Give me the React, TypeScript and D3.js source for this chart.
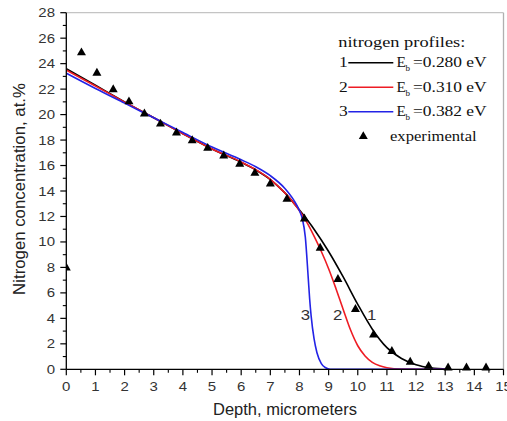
import React from "react";
import * as d3 from "d3";

// ---- data ----
const expDepth = [0, 0.52, 1.05, 1.61, 2.15, 2.68, 3.23, 3.78, 4.32, 4.85, 5.4, 5.95, 6.47, 7.0, 7.57, 8.17, 8.71, 9.32, 9.92, 10.54, 11.17, 11.8, 12.43, 13.1, 13.73, 14.4];
const expConc = [8.0, 24.9, 23.3, 22.0, 21.05, 20.1, 19.3, 18.6, 18.0, 17.4, 16.8, 16.15, 15.45, 14.6, 13.4, 11.85, 9.55, 7.1, 4.75, 2.75, 1.45, 0.6, 0.28, 0.15, 0.15, 0.15];

const prof1Depth = [0, 1, 2, 3, 4, 5, 6, 6.5, 7, 7.5, 8, 8.5, 9, 9.5, 10, 10.5, 11, 11.5, 12, 12.5, 13.1];
const prof1Conc = [23.6, 22.3, 21.0, 19.75, 18.5, 17.3, 16.25, 15.65, 14.9, 13.85, 12.5, 11.0, 9.25, 7.25, 5.1, 3.15, 1.7, 0.85, 0.36, 0.11, 0];

const prof2Depth = [0, 1, 2, 3, 4, 5, 6, 6.5, 7, 7.5, 8, 8.25, 8.5, 8.75, 9.0, 9.25, 9.5, 9.75, 10, 10.25, 10.5, 10.75, 11, 11.5, 13.1];
const prof2Conc = [23.5, 22.25, 20.98, 19.75, 18.5, 17.3, 16.28, 15.68, 14.92, 13.85, 12.45, 11.55, 10.45, 9.25, 7.9, 6.35, 4.7, 3.1, 1.85, 1.05, 0.55, 0.27, 0.12, 0.02, 0];

const prof3Depth = [0, 1, 2, 3, 4, 5, 6, 6.5, 7, 7.5, 7.8, 8.0, 8.1, 8.2, 8.3, 8.35, 8.4, 8.5, 8.6, 8.75, 8.9, 9.05, 13.1];
const prof3Conc = [23.25, 22.05, 20.9, 19.75, 18.6, 17.45, 16.45, 15.9, 15.2, 14.2, 13.3, 12.45, 11.8, 10.4, 7.2, 5.5, 4.2, 2.4, 1.3, 0.45, 0.12, 0, 0];

const profileIds = ["1", "2", "3"];
const profileEnergies = ["=0.280 eV", "=0.310 eV", "=0.382 eV"];
const profileColors = ["#000000", "#ee1c24", "#2323e6"];
const curveLabelDepth = [10.48, 9.31, 8.2];
const curveLabelConc = [4.26, 4.26, 4.26];

const xTicks = d3.range(0, 16, 1);
const yTicks = d3.range(0, 29, 2);

export default function App() {
  const W = 507, H = 421;
  const x = d3.scaleLinear().domain([0, 15]).range([66.3, 503.5]);
  const y = d3.scaleLinear().domain([0, 28]).range([369.3, 12.7]);
  const line = d3
    .line<[number, number]>()
    .x((d) => x(d[0]))
    .y((d) => y(d[1]))
    .curve(d3.curveMonotoneX);

  const profiles = [
    d3.zip(prof1Depth, prof1Conc) as [number, number][],
    d3.zip(prof2Depth, prof2Conc) as [number, number][],
    d3.zip(prof3Depth, prof3Conc) as [number, number][],
  ];

  const xMinor = d3.range(0.5, 15, 1);
  const yMinor = d3.range(1, 28, 2);
  const sans = "'Liberation Sans', Arial, sans-serif";
  const serif = "'Liberation Serif', 'Times New Roman', serif";
  const tri = "M0,-4.8L4.5,3.1L-4.5,3.1Z";
  const x0 = x(0), y0 = y(0);

  const legendBase = [67, 91.5, 116];
  const legendCenter = [62.7, 87.3, 111.7];

  return (
    <svg width={W} height={H} style={{ position: "absolute", left: 0, top: 0, background: "#fff" }}>
      <defs>
        <clipPath id="plotclip">
          <rect x={x0} y={0} width={x(15) - x0} height={y0 + 8} />
        </clipPath>
      </defs>
      <rect width={W} height={H} fill="#fff" />
      {/* frame */}
      <line x1={x0} x2={x(15)} y1={y(28)} y2={y(28)} stroke="#c4c4c4" strokeWidth={1.3} />
      <line x1={x(15)} x2={x(15)} y1={y(28)} y2={y0} stroke="#b0b0b0" strokeWidth={1.3} />

      {/* curves */}
      <g clipPath="url(#plotclip)">
        {profiles.map((p, i) => (
          <path key={i} d={line(p) || ""} fill="none" stroke={profileColors[i]} strokeWidth={1.6} />
        ))}
        {expDepth.map((d, i) => (
          <path key={i} d={tri} transform={`translate(${x(d)},${y(expConc[i])})`} fill="#000" />
        ))}
      </g>

      {/* curve labels */}
      {profileIds.map((id, i) => (
        <g key={id} transform={`translate(${x(curveLabelDepth[i])},${y(curveLabelConc[i]) + 5})`}>
          <text transform="scale(1.2,1)" textAnchor="middle" fontFamily={sans} fontSize={14} fill="#333">
            {id}
          </text>
        </g>
      ))}

      {/* axes */}
      <line x1={x0} x2={x(15)} y1={y0} y2={y0} stroke="#000" strokeWidth={1.3} />
      <line x1={x0} x2={x0} y1={y(28)} y2={y0} stroke="#000" strokeWidth={1.3} />
      {xTicks.map((t) => (
        <line key={"xt" + t} x1={x(t)} x2={x(t)} y1={y0} y2={y0 + 6} stroke="#000" strokeWidth={1.2} />
      ))}
      {xMinor.map((t) => (
        <line key={"xm" + t} x1={x(t)} x2={x(t)} y1={y0} y2={y0 + 3.5} stroke="#000" strokeWidth={1.1} />
      ))}
      {yTicks.map((t) => (
        <line key={"yt" + t} x1={x0 - 6} x2={x0} y1={y(t)} y2={y(t)} stroke="#000" strokeWidth={1.2} />
      ))}
      {yMinor.map((t) => (
        <line key={"ym" + t} x1={x0 - 3.5} x2={x0} y1={y(t)} y2={y(t)} stroke="#000" strokeWidth={1.1} />
      ))}
      {xTicks.map((t) => (
        <g key={"xl" + t} transform={`translate(${x(t)},${391})`}>
          <text transform="scale(1.2,1)" textAnchor="middle" fontFamily={sans} fontSize={12.5} fill="#333">
            {t}
          </text>
        </g>
      ))}
      {yTicks.map((t) => (
        <g key={"yl" + t} transform={`translate(${55},${y(t) + 4.5})`}>
          <text transform="scale(1.2,1)" textAnchor="end" fontFamily={sans} fontSize={12.5} fill="#333">
            {t}
          </text>
        </g>
      ))}

      {/* axis titles */}
      <text x={285} y={415} textAnchor="middle" fontFamily={sans} fontSize={16.5} fill="#222">
        Depth, micrometers
      </text>
      <text
        transform={`translate(${25},${189}) rotate(-90)`}
        textAnchor="middle"
        fontFamily={sans}
        fontSize={16.8}
        fill="#222"
      >
        Nitrogen concentration, at.%
      </text>

      {/* legend */}
      <text x={338.3} y={46.7} fontFamily={serif} fontSize={14} textLength={127} lengthAdjust="spacingAndGlyphs" fill="#111">
        nitrogen profiles:
      </text>
      {profileIds.map((id, i) => (
        <g key={"lg" + id}>
          <g transform={`translate(${339},${legendBase[i]})`}>
            <text transform="scale(1.25,1)" fontFamily={serif} fontSize={14} fill="#111">
              {id}
            </text>
          </g>
          <line x1={348.3} x2={393.3} y1={legendCenter[i]} y2={legendCenter[i]} stroke={profileColors[i]} strokeWidth={1.6} />
          <g transform={`translate(${396.5},${legendBase[i]})`}>
            <text transform="scale(1.1,1)" fontFamily={serif} fontSize={14} fill="#111">
              E
            </text>
          </g>
          <text x={405.5} y={legendBase[i] + 4} fontFamily={serif} fontSize={9} fill="#111">
            b
          </text>
          <text
            x={413}
            y={legendBase[i]}
            fontFamily={serif}
            fontSize={14}
            textLength={73.7}
            lengthAdjust="spacingAndGlyphs"
            fill="#111"
          >
            {profileEnergies[i]}
          </text>
        </g>
      ))}
      <path d={tri} transform={`translate(${363.3},${136})`} fill="#000" />
      <text x={390} y={140.5} fontFamily={serif} fontSize={14} textLength={86.7} lengthAdjust="spacingAndGlyphs" fill="#111">
        experimental
      </text>
    </svg>
  );
}
